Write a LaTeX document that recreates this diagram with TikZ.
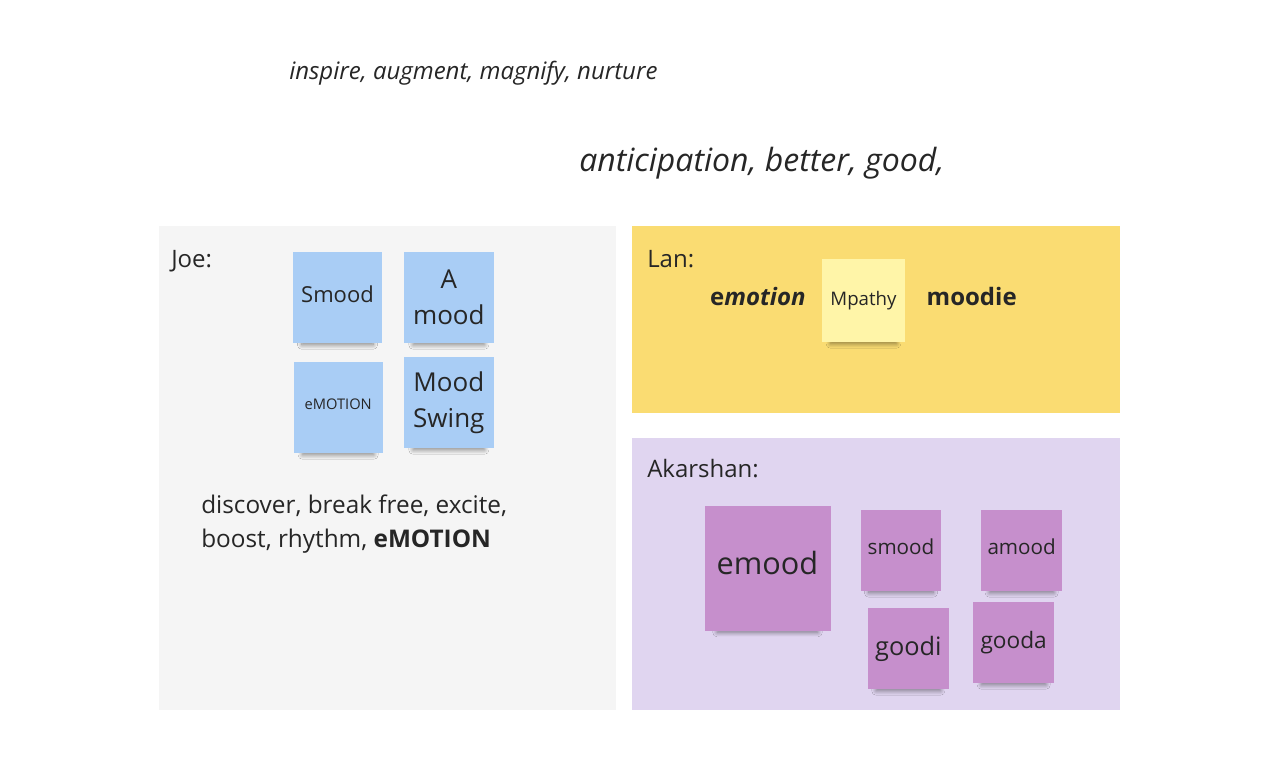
\documentclass[tikz,border=0pt]{standalone}
\usepackage{fontspec}
\setmainfont{Open Sans}
\usepackage{xcolor}
\usepackage{tikz}
\usetikzlibrary{positioning,shadows.blur}

\definecolor{joegray}{HTML}{F5F5F5}
\definecolor{lanyellow}{HTML}{FADC72}
\definecolor{akaviolet}{HTML}{E0D5F0}
\definecolor{noteblue}{HTML}{A9CDF5}
\definecolor{notelight}{HTML}{FFF5A8}
\definecolor{notepurple}{HTML}{C68FCC}
\definecolor{ink}{HTML}{262626}

\tikzset{note/.style={inner sep=0pt,align=center,
		blur shadow={shadow scale=0.8,shadow yshift=#1,shadow xshift=0pt,shadow opacity=45,shadow blur radius=4pt,shadow blur steps=12}},
	note/.default=-10.5pt}

\begin{document}
\begin{tikzpicture}[x=0.75pt,y=-0.75pt,node distance=83pt,text=ink]
			\tikzstyle{bluenote}=[note,fill=noteblue,minimum width=67pt,minimum height=68pt]
			\tikzstyle{purplenote}=[note=-9.5pt,fill=notepurple,minimum width=60.5pt,minimum height=60.5pt]
			\tikzstyle{label}=[anchor=base west,inner sep=0pt,font=\fontsize{18}{24}\selectfont]
			\useasboundingbox (0,0) rectangle (1280,780);
			
			% frames
			\fill[joegray]   (159,226) rectangle (616,710);
			\fill[lanyellow] (632,226) rectangle (1120,413);
			\fill[akaviolet] (632,438) rectangle (1120,710);
			
			% loose words on top
			\node[anchor=base west,inner sep=0pt,font=\fontsize{18}{22}\selectfont\itshape] (inspire) at (289,80) {inspire, augment, magnify, nurture};
			\node[anchor=base west,inner sep=0pt,font=\fontsize{24}{28}\selectfont\itshape] (anticip) at (579,172) {anticipation, better, good,};
			
			% Joe
			\node[label] (joe) at (171,268) {Joe:};
			\node[bluenote,text depth=4.5pt,font=\fontsize{16.5}{27}\selectfont] (smood) at (337.5,297.5) {Smood};
			\node[bluenote,font=\fontsize{19.5}{27}\selectfont] (amood)[right of = smood, xshift=0.5pt] {A\\mood};
			\node[bluenote,text depth=4.5pt,font=\fontsize{11}{14}\selectfont] (emotion)[below of = smood, xshift=0.5pt, yshift=0.5pt] {eMOTION};
			\node[bluenote,font=\fontsize{19.5}{27}\selectfont] (swing)[below of = amood, yshift=4.25pt] {Mood\\Swing};
			\node[anchor=north west,inner sep=0pt,align=left,font=\fontsize{18.25}{25.5}\selectfont] (joewords) at (201,495)
				{discover, break free, excite,\\boost, rhythm, \textbf{eMOTION}};
			
			% Lan
			\node[label] (lan) at (647,268) {Lan:};
			\node[note=-9.7pt,fill=notelight,minimum width=62pt,minimum height=62pt,font=\fontsize{14}{18}\selectfont] (mpathy) at (863.5,300.5) {Mpathy};
			\node[font=\fontsize{18}{22}\selectfont\bfseries, left=12pt of mpathy.west, yshift=3pt, inner sep=0pt] (emo) {e\textit{motion}};
			\node[font=\fontsize{18}{22}\selectfont\bfseries, right=16pt of mpathy.east, yshift=3pt, inner sep=0pt] (moodie) {moodie};
			
			% Akarshan
			\node[label] (akarshan) at (647,477) {Akarshan:};
			\node[note=-13pt,fill=notepurple,minimum width=94.5pt,minimum height=94pt,text depth=9pt,font=\fontsize{23}{28}\selectfont] (emood) at (767.5,568.5) {emood};
			\node[purplenote,text depth=6pt,font=\fontsize{15.5}{20}\selectfont] (smoodp) at (901,550.5) {smood};
			\node[purplenote,text depth=6pt,font=\fontsize{15.5}{20}\selectfont] (amoodp)[right of = smoodp, xshift=7.5pt] {amood};
			\node[purplenote,font=\fontsize{19}{24}\selectfont] (goodi)[below of = smoodp, xshift=5.5pt, yshift=9.5pt] {goodi};
			\node[purplenote,font=\fontsize{17}{22}\selectfont] (gooda)[below of = amoodp, xshift=-6pt, yshift=14pt] {gooda};
			
			\end{tikzpicture}
\end{document}
